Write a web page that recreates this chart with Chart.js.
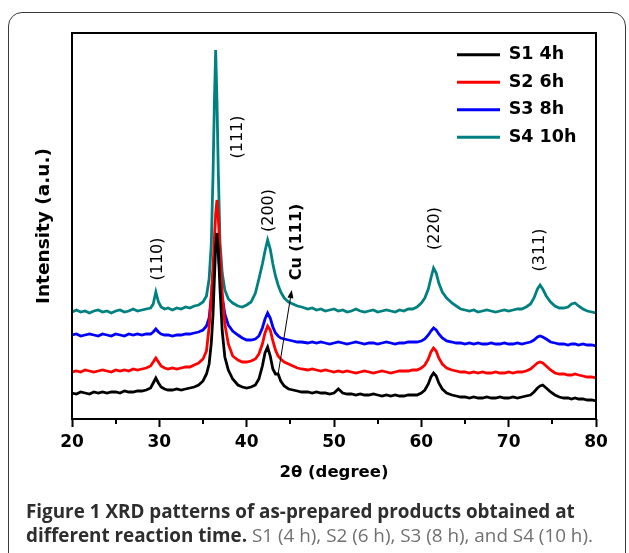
<!DOCTYPE html>
<html><head><meta charset="utf-8">
<script src="https://cdn.jsdelivr.net/npm/chart.js@4.4.1/dist/chart.umd.min.js"></script>
<style>
html,body{margin:0;padding:0;background:#fff;width:629px;height:553px;overflow:hidden}
#frame{position:absolute;left:8px;top:12px;width:618px;height:620px;border:1.5px solid #3a3a3a;border-radius:14px;box-sizing:border-box}
#wrap{position:absolute;left:0;top:0;width:629px;height:553px}
#caption{position:absolute;left:26px;top:499px;font-family:"Open Sans";font-size:16px;line-height:24px;color:#2e2e2e;white-space:nowrap}
#caption b{font-weight:700;color:#2e2e2e}
#caption span{color:#707070;font-weight:400}
</style></head><body>
<div id="frame"></div>
<div id="wrap"><canvas id="c" width="629" height="553"></canvas></div>
<div id="caption"><b id="cap1">Figure 1 XRD patterns of as-prepared products obtained at</b><br><b>different reaction time.</b> <span>S1 (4 h), S2 (6 h), S3 (8 h), and S4 (10 h).</span></div>
<script>
// ---- data (2θ in degrees, intensity in arbitrary units) ----
const twoTheta = [
 20,20.5,21,21.5,22,22.5,23,23.5,24,24.5,
 25,25.5,26,26.5,27,27.5,28,28.5,29,29.3,
 29.6,29.9,30.2,30.6,31,31.5,32,32.5,33,33.5,
 34,34.5,35,35.4,35.7,35.95,36.15,36.3,36.45,36.6,
 36.75,36.95,37.2,37.5,37.9,38.4,39,39.5,40,40.5,
 41,41.4,41.8,42.1,42.4,42.7,43.0,43.3,43.6,43.9,
 44.3,44.8,45.3,45.8,46.3,47,47.5,48,48.5,49,
 49.5,50,50.5,51,51.5,52,52.5,53,53.5,54,
 54.5,55,55.5,56,56.5,57,57.5,58,58.5,59,
 59.5,60,60.4,60.8,61.1,61.4,61.7,62.0,62.4,62.9,
 63.5,64,64.5,65,65.5,66,66.5,67,67.5,68,
 68.5,69,69.5,70,70.5,71,71.5,72,72.5,72.9,
 73.3,73.6,73.9,74.3,74.8,75.3,75.8,76.3,76.8,77.2,
 77.6,78.0,78.5,79,79.5,80];

const s1_4h = [
 26,25,27,26,25,27,26,27,26,27,
 27,26,28,27,27,28,28,29,31,36,
 41,36,32,30,29,29,30,29,30,31,
 32,34,38,45,55,76,105,140,172,186,
 170,130,88,62,49,40,34,32,31,32,
 34,40,53,66,72,63,50,45,45,38,
 33,30,29,28,27,27,26,27,26,26,
 25,26,30,26,25,25,24,25,24,24,
 25,24,23,24,23,24,23,23,24,24,
 24,26,29,35,42,46,43,36,30,26,
 24,23,22,22,21,22,21,21,22,21,
 21,22,21,21,22,21,22,23,24,27,
 31,33,34,31,27,24,22,21,21,20,
 21,20,20,19,19,18];

const s2_6h = [
 47,48,47,49,48,47,48,49,48,47,
 49,48,49,48,50,49,50,51,53,57,
 61,57,53,51,50,51,50,51,52,52,
 54,56,60,68,92,122,152,180,205,219,
 202,165,125,95,75,63,59,57,57,58,
 60,65,75,86,93,89,78,69,63,60,
 57,55,53,51,50,49,50,49,48,49,
 48,47,48,47,48,47,46,47,48,47,
 46,47,48,47,46,47,48,48,48,49,
 49,51,54,60,67,71,68,61,55,51,
 49,48,47,47,46,47,46,47,46,46,
 47,46,46,47,46,47,47,48,50,53,
 56,57,56,53,49,46,45,45,44,44,
 45,44,43,42,42,41];

const s3_8h = [
 84,85,83,84,85,84,83,85,84,83,
 85,84,83,85,84,85,84,85,85,87,
 90,87,85,84,84,83,84,84,85,85,
 86,87,89,93,101,122,145,162,173,176,
 166,145,122,105,94,88,84,81,79,79,
 80,83,91,100,106,101,92,86,83,81,
 80,79,78,77,77,76,77,76,77,76,
 75,76,77,76,75,76,77,76,75,76,
 76,75,76,77,76,75,76,76,77,77,
 77,78,80,84,88,91,89,85,81,78,
 77,76,76,75,76,75,76,75,75,76,
 75,75,76,75,75,76,75,76,77,79,
 82,83,82,80,77,76,75,75,74,75,
 75,74,75,74,74,73];

const s4_10h = [
 107,109,107,108,106,108,109,107,108,106,
 108,109,107,108,110,108,109,110,111,115,
 127,117,112,110,111,109,111,110,112,111,
 113,114,117,123,140,175,245,315,369,318,
 248,176,146,129,120,116,113,112,114,117,
 126,140,155,168,179,170,155,143,134,127,
 121,117,115,113,112,110,111,109,110,108,
 109,110,108,109,107,108,110,108,107,108,
 109,107,108,109,108,107,109,108,110,110,
 112,116,121,130,141,151,146,136,127,121,
 116,113,110,109,108,109,107,108,109,108,
 107,108,109,108,109,110,110,112,115,121,
 130,134,130,123,117,113,111,111,112,115,
 116,113,110,108,107,106];

const seriesLabels = ['S1 4h', 'S2 6h', 'S3 8h', 'S4 10h'];
const seriesColors = ['#000000', '#ff0000', '#0000ff', '#008080'];
const xTickValues = [20, 30, 40, 50, 60, 70, 80];

// peak annotations (text centre in data coordinates)
const peakLabels = ['(110)', '(111)', '(200)', 'Cu (111)', '(220)', '(311)'];
const peakTheta  = [29.79, 38.95, 42.55, 45.73, 61.57, 73.6];
const peakY      = [160, 282, 208.5, 177, 190.5, 169];
const peakBold   = [false, false, false, true, false, false];
// arrow pointing at the Cu (111) shoulder: [tail, head]
const arrowTheta = [43.62, 45.16];
const arrowY     = [46, 129];

// ---- chart ----
const seriesValues = [s1_4h, s2_6h, s3_8h, s4_10h];
const datasets = seriesValues.map((vals, k) => ({
  label: seriesLabels[k],
  data: twoTheta.map((t, i) => ({x: t, y: vals[i]})),
  borderColor: seriesColors[k],
  backgroundColor: seriesColors[k],
  borderWidth: 2.8,
  pointRadius: 0,
  tension: 0,
  fill: false
}));

const frameAndTicks = {
  id: 'frameAndTicks',
  afterLayout(chart) {
    const lg = chart.legend, ca = chart.chartArea;
    if (lg) {
      lg.left = ca.right - 149; lg.right = ca.right;
      lg.top = ca.top + 3; lg.bottom = ca.bottom;
    }
  },
  afterDraw(chart) {
    const ctx = chart.ctx, ca = chart.chartArea, xs = chart.scales.x;
    ctx.save();
    ctx.strokeStyle = '#000';
    ctx.lineWidth = 2;
    ctx.strokeRect(ca.left, ca.top, ca.right - ca.left, ca.bottom - ca.top);
    // minor ticks
    for (let v = xs.min + 5; v < xs.max; v += 10) {
      const px = Math.round(xs.getPixelForValue(v));
      ctx.beginPath(); ctx.moveTo(px, ca.bottom); ctx.lineTo(px, ca.bottom + 5); ctx.stroke();
    }
    ctx.restore();
  },
  afterDatasetsDraw(chart) {
    const ctx = chart.ctx, xs = chart.scales.x, ys = chart.scales.y;
    ctx.save();
    ctx.fillStyle = '#000';
    ctx.textAlign = 'center';
    ctx.textBaseline = 'middle';
    peakLabels.forEach((lab, i) => {
      const px = xs.getPixelForValue(peakTheta[i]);
      const py = ys.getPixelForValue(peakY[i]);
      ctx.save();
      ctx.translate(px, py);
      ctx.rotate(-Math.PI / 2);
      ctx.font = (peakBold[i] ? 'bold ' : '') + '16px "DejaVu Sans"';
      ctx.fillText(lab, 0, 0);
      ctx.restore();
    });
    // arrow
    const x0 = xs.getPixelForValue(arrowTheta[0]), y0 = ys.getPixelForValue(arrowY[0]);
    const x1 = xs.getPixelForValue(arrowTheta[1]), y1 = ys.getPixelForValue(arrowY[1]);
    const ang = Math.atan2(y1 - y0, x1 - x0);
    ctx.strokeStyle = '#000';
    ctx.lineWidth = 1;
    ctx.beginPath(); ctx.moveTo(x0, y0); ctx.lineTo(x1 - 5 * Math.cos(ang), y1 - 5 * Math.sin(ang)); ctx.stroke();
    ctx.beginPath();
    ctx.moveTo(x1, y1);
    ctx.lineTo(x1 - 8 * Math.cos(ang) + 3 * Math.sin(ang), y1 - 8 * Math.sin(ang) - 3 * Math.cos(ang));
    ctx.lineTo(x1 - 8 * Math.cos(ang) - 3 * Math.sin(ang), y1 - 8 * Math.sin(ang) + 3 * Math.cos(ang));
    ctx.closePath(); ctx.fill();
    ctx.restore();
  }
};

new Chart(document.getElementById('c'), {
  type: 'line',
  data: { datasets },
  options: {
    responsive: false,
    animation: false,
    layout: { padding: { top: 33, right: 33, left: 0, bottom: 0 } },
    plugins: {
      tooltip: { enabled: false },
      legend: {
        position: 'chartArea',
        align: 'start',
        labels: {
          usePointStyle: true,
          pointStyle: 'line',
          pointStyleWidth: 43,
          boxHeight: 17,
          padding: 10,
          color: '#000',
          font: { family: 'DejaVu Sans', weight: 'bold', size: 17.5 },
          generateLabels(chart) {
            const items = Chart.defaults.plugins.legend.labels.generateLabels(chart);
            items.forEach(it => { it.lineWidth = 3; it.pointStyle = 'line'; });
            return items;
          }
        }
      }
    },
    scales: {
      x: {
        type: 'linear',
        min: xTickValues[0],
        max: xTickValues[xTickValues.length - 1],
        afterFit(scale) { scale.height = 134; },
        afterBuildTicks(scale) { scale.ticks = xTickValues.map(v => ({ value: v })); },
        border: { display: false },
        grid: { display: true, drawOnChartArea: false, drawTicks: true, tickLength: 8, tickWidth: 2, tickColor: '#000' },
        ticks: { color: '#000', padding: 5, maxRotation: 0, font: { family: 'DejaVu Sans', weight: 'bold', size: 17 } },
        title: { display: true, text: '2θ (degree)', color: '#000', padding: { top: 0, bottom: 70 },
                 font: { family: 'DejaVu Sans', weight: 'bold', size: 16.5 } }
      },
      y: {
        min: 0,
        max: 386,
        afterFit(scale) { scale.width = 72; },
        border: { display: false },
        grid: { display: false },
        ticks: { display: false },
        title: { display: true, text: 'Intensity (a.u.)', color: '#000', padding: { top: 33, bottom: 0 },
                 font: { family: 'DejaVu Sans', weight: 'bold', size: 18.5 } }
      }
    }
  },
  plugins: [frameAndTicks]
});

// fit the caption's first line to the width it takes in the figure
(function () {
  const m = document.createElement('canvas').getContext('2d');
  m.font = '700 100px "Open Sans"';
  const w = m.measureText(document.getElementById('cap1').textContent).width;
  const size = 100 * 549 / w;
  const cap = document.getElementById('caption');
  cap.style.fontSize = size.toFixed(2) + 'px';
})();
</script>
</body></html>
